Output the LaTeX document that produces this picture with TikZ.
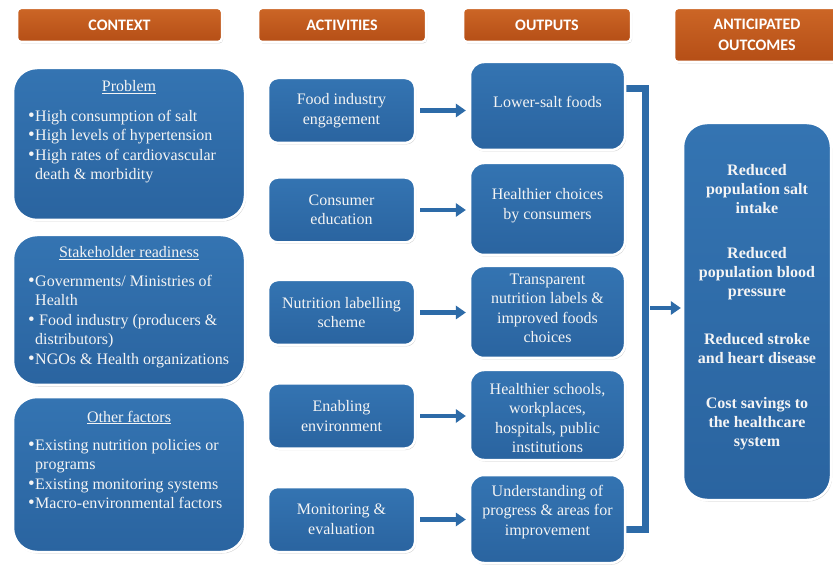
\documentclass[tikz,border=0pt]{standalone}
\usepackage{fontspec}
\setmainfont{Liberation Serif}
\newfontfamily\hdrfont{Carlito}
\usetikzlibrary{shadows,arrows.meta}
\definecolor{bltop}{HTML}{3474B2}
\definecolor{blbot}{HTML}{2A64A0}
\definecolor{blbar}{HTML}{2D6BA8}
\definecolor{ortop}{HTML}{CC6626}
\definecolor{orbot}{HTML}{B54E16}
\definecolor{txtw}{HTML}{F4F4F4}
\newcommand\mybul{\makebox[7pt][l]{\raisebox{0.3pt}{\fontsize{19}{19.5}\selectfont•}}}
\pgfdeclarelayer{bg}
\pgfsetlayers{bg,main}
\tikzset{
  boxbase/.style={draw=white, line width=2.5pt, top color=bltop, bottom color=blbot,
    drop shadow={opacity=0.35, shadow xshift=1pt, shadow yshift=-1.5pt},
    inner sep=0pt, text=txtw, align=center},
  hdrbox/.style={draw=white, line width=2.5pt, top color=ortop, bottom color=orbot,
    rounded corners=4pt, drop shadow={opacity=0.35, shadow xshift=1pt, shadow yshift=-1.5pt},
    text=white, align=center, font=\hdrfont\bfseries\fontsize{16}{21}\selectfont,
    minimum height=34},
  ctxbox/.style={boxbase, rounded corners=24pt, minimum width=232},
  actbox/.style={boxbase, rounded corners=10pt, minimum width=147, minimum height=65,
    font=\fontsize{16}{19.5}\selectfont},
  outbox/.style={boxbase, rounded corners=14pt, minimum width=155,
    font=\fontsize{16}{19.5}\selectfont},
  outcbox/.style={boxbase, rounded corners=24pt},
  ttl/.style={inner sep=0pt, text=txtw, font=\fontsize{16}{19.5}\selectfont},
  items/.style={inner sep=0pt, text=txtw, align=left, font=\fontsize{16}{19.5}\selectfont},
  outctxt/.style={inner sep=0pt, text=txtw, align=center, font=\bfseries\fontsize{16}{19}\selectfont},
  barrow/.style={draw=blbar, line width=4.5pt,
    -{Triangle[length=10pt,width=14pt,line width=0pt]},
    preaction={draw=white, line width=7.5pt, shorten >=-2pt,
      -{Triangle[length=13pt,width=19pt,line width=0pt]}}},
  bar/.style={draw=blbar, line width=7pt, line join=miter,
    preaction={draw=white, line width=10pt, line join=miter}}
}
\begin{document}
\begin{tikzpicture}[x=1pt,y=-1pt]
\useasboundingbox (0,0) rectangle (833,569);
\begin{pgfonlayer}{bg}
\fill[white] (0,0) rectangle (833,569);
\end{pgfonlayer}

% headers
\node[hdrbox, minimum width=205] (hc) at (119.5,25) {CONTEXT};
\node[hdrbox, minimum width=168] (ha) at (342,25) {ACTIVITIES};
\node[hdrbox, minimum width=168] (ho) at (547,25) {OUTPUTS};
\node[hdrbox, minimum width=166, minimum height=54] (hn) at (757,35) {ANTICIPATED\\OUTCOMES};

% context boxes
\node[ctxbox, minimum height=152] (cp) at (129,144) {};
\node[ctxbox, minimum height=150] (cs) at (129,310) {};
\node[ctxbox, minimum height=155] (cf) at (129,474.5) {};

\node[ttl, anchor=base] (tp) at (129,92) {\underline{Problem}};
\node[items, anchor=north west] (ip) at (28,110) {\mybul High consumption of salt\\\mybul High levels of hypertension\\\mybul High rates of cardiovascular\\\hphantom{\mybul}death \& morbidity};

\node[ttl, anchor=base] (ts) at (129,258) {\underline{Stakeholder readiness}};
\node[items, anchor=north west] (is) at (28,275) {\mybul Governments/ Ministries of\\\hphantom{\mybul}Health\\\mybul\ Food industry (producers \&\\\hphantom{\mybul}distributors)\\\mybul NGOs \& Health organizations};

\node[ttl, anchor=base] (tf) at (129,422) {\underline{Other factors}};
\node[items, anchor=north west] (if) at (28,439) {\mybul Existing nutrition policies or\\\hphantom{\mybul}programs\\\mybul Existing monitoring systems\\\mybul Macro-environmental factors};

% activities
\node[actbox] (a1) at (341.5,110.5) {Food industry\\engagement};
\node[actbox] (a2) at (341.5,210) {Consumer\\education};
\node[actbox] (a3) at (341.5,312.5) {Nutrition labelling\\scheme};
\node[actbox] (a4) at (341.5,416) {Enabling\\environment};
\node[actbox] (a5) at (341.5,519.5) {Monitoring \&\\evaluation};

% outputs
\node[outbox, minimum height=88] (o1) at (547.5,106) {};
\node[outbox, minimum height=92] (o2) at (547.5,209) {};
\node[outbox, minimum height=92] (o3) at (547.5,312) {};
\node[outbox, minimum height=90] (o4) at (547.5,415) {};
\node[outbox, minimum height=88] (o5) at (547.5,519) {};
\node[items, align=center] (t1) at (547.5,102) {Lower-salt foods};
\node[items, align=center] (t2) at (547.5,205.5) {Healthier choices\\by consumers};
\node[items, align=center] (t3) at (547.5,308.5) {Transparent\\nutrition labels \&\\improved foods\\choices};
\node[items, align=center] (t4) at (547.5,418) {Healthier schools,\\workplaces,\\hospitals, public\\institutions};
\node[items, align=center] (t5) at (547.5,512) {Understanding of\\progress \& areas for\\improvement};

% outcomes
\node[outcbox, minimum width=148, minimum height=377] (oc) at (757,311.5) {};
\node[outctxt] (g1) at (757,189) {Reduced\\population salt\\intake};
\node[outctxt] (g2) at (757,274) {Reduced\\population blood\\pressure};
\node[outctxt] (g3) at (757,349) {Reduced stroke\\and heart disease};
\node[outctxt] (g4) at (757,424) {Cost savings to\\the healthcare\\system};

% connectors
\coordinate (bt) at (645,89);
\coordinate (bb) at (645,529);
\coordinate (hub) at (645,308);
\begin{pgfonlayer}{bg}
\foreach \i in {1,...,5}{
  \draw[barrow] ([xshift=4pt]a\i.east) -- ([xshift=-3pt]o\i.west |- a\i.east);
}
\draw[barrow] (hub) -- ([xshift=-1pt]oc.west |- hub);
\draw[bar] ([xshift=-4pt]o1.east |- bt) -- (bt) -- (bb) -- ([xshift=-4pt]o5.east |- bb);
\end{pgfonlayer}
\end{tikzpicture}
\end{document}
